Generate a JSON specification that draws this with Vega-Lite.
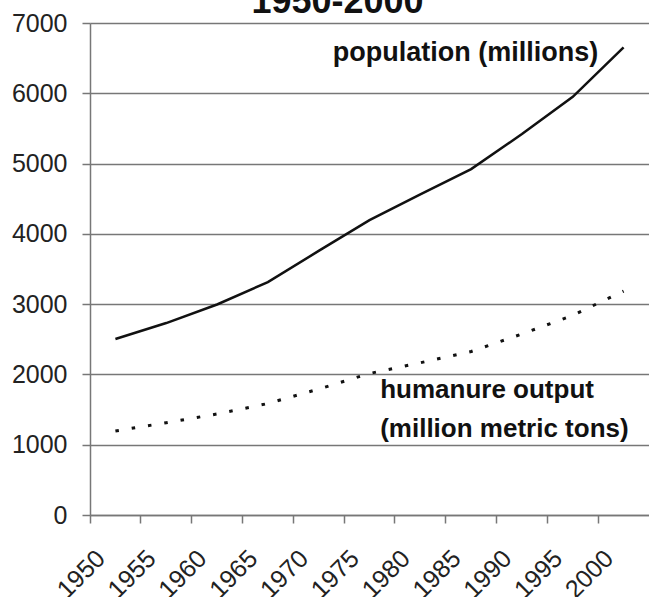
{
  "$schema": "https://vega.github.io/schema/vega-lite/v6.json",
  "width": 559,
  "height": 492,
  "autosize": {"type": "none"},
  "padding": {"left": 90, "top": 23, "right": 0, "bottom": 82},
  "background": "white",
  "datasets": {
    "series": [
      {"year": 1950, "series": "population", "value": 2504},
      {"year": 1955, "series": "population", "value": 2731},
      {"year": 1960, "series": "population", "value": 2995},
      {"year": 1965, "series": "population", "value": 3314},
      {"year": 1970, "series": "population", "value": 3757},
      {"year": 1975, "series": "population", "value": 4196},
      {"year": 1980, "series": "population", "value": 4562},
      {"year": 1985, "series": "population", "value": 4922},
      {"year": 1990, "series": "population", "value": 5420},
      {"year": 1995, "series": "population", "value": 5950},
      {"year": 2000, "series": "population", "value": 6653},
      {"year": 1950, "series": "humanure", "value": 1195},
      {"year": 1955, "series": "humanure", "value": 1313},
      {"year": 1960, "series": "humanure", "value": 1437},
      {"year": 1965, "series": "humanure", "value": 1586},
      {"year": 1970, "series": "humanure", "value": 1792},
      {"year": 1975, "series": "humanure", "value": 2013},
      {"year": 1980, "series": "humanure", "value": 2166},
      {"year": 1985, "series": "humanure", "value": 2326},
      {"year": 1990, "series": "humanure", "value": 2575},
      {"year": 1995, "series": "humanure", "value": 2841},
      {"year": 2000, "series": "humanure", "value": 3186}
    ],
    "notes": [
      {"year": 2000, "value": 6460, "label": "population (millions)", "group": "pop"},
      {"year": 1975, "value": 1665, "label": "humanure output", "group": "hum"},
      {"year": 1975, "value": 1110, "label": "(million metric tons)", "group": "hum"},
      {"year": 1970, "value": 7141, "label": "1950-2000", "group": "title"}
    ]
  },
  "encoding": {
    "x": {
      "field": "year",
      "type": "ordinal",
      "scale": {"type": "band", "paddingInner": 0, "paddingOuter": 0},
      "axis": {
        "title": null,
        "bandPosition": 0,
        "labelAngle": -45,
        "labelAlign": "right",
        "labelBaseline": "middle",
        "labelOffset": -14.5,
        "labelPadding": 31,
        "labelOverlap": false,
        "labelFlush": false,
        "labelFont": "Liberation Sans",
        "labelFontSize": 25,
        "labelColor": "#222",
        "tickSize": 8,
        "tickColor": "#777",
        "tickWidth": 1.5,
        "domainColor": "#777",
        "domainWidth": 1.5,
        "grid": false
      }
    },
    "y": {
      "field": "value",
      "type": "quantitative",
      "scale": {"domain": [0, 7000], "nice": false, "zero": true},
      "axis": {
        "title": null,
        "format": "d",
        "values": [0, 1000, 2000, 3000, 4000, 5000, 6000, 7000],
        "grid": true,
        "gridColor": "#777",
        "gridWidth": 1.5,
        "gridOpacity": 1,
        "tickSize": 8,
        "tickColor": "#777",
        "tickWidth": 1.5,
        "domainColor": "#777",
        "domainWidth": 1.5,
        "labelPadding": 15,
        "labelFont": "Liberation Sans",
        "labelFontSize": 25,
        "labelColor": "#222"
      }
    }
  },
  "layer": [
    {
      "data": {"name": "series"},
      "transform": [{"filter": "datum.series === 'population'"}],
      "mark": {"type": "line", "color": "#111", "strokeWidth": 2.5},
      "encoding": {"x": {"field": "year", "type": "ordinal", "bandPosition": 0.5}}
    },
    {
      "data": {"name": "series"},
      "transform": [{"filter": "datum.series === 'humanure'"}],
      "mark": {"type": "line", "color": "#111", "strokeWidth": 3, "strokeDash": [3.5, 13], "strokeCap": "butt"},
      "encoding": {"x": {"field": "year", "type": "ordinal", "bandPosition": 0.5}}
    },
    {
      "data": {"name": "notes"},
      "transform": [{"filter": "datum.group === 'pop'"}],
      "mark": {"type": "text", "align": "right", "baseline": "alphabetic", "font": "Liberation Sans", "fontSize": 27, "fontWeight": "bold", "color": "#111"},
      "encoding": {
        "x": {"field": "year", "type": "ordinal", "bandPosition": 0},
        "text": {"field": "label"}
      }
    },
    {
      "data": {"name": "notes"},
      "transform": [{"filter": "datum.group === 'hum'"}],
      "mark": {"type": "text", "align": "left", "baseline": "alphabetic", "font": "Liberation Sans", "fontSize": 26, "fontWeight": "bold", "color": "#111"},
      "encoding": {
        "x": {"field": "year", "type": "ordinal", "bandPosition": 0.71},
        "text": {"field": "label"}
      }
    },
    {
      "data": {"name": "notes"},
      "transform": [{"filter": "datum.group === 'title'"}],
      "mark": {"type": "text", "align": "center", "baseline": "alphabetic", "font": "Liberation Sans", "fontSize": 36, "fontWeight": "bold", "color": "#111"},
      "encoding": {
        "x": {"field": "year", "type": "ordinal", "bandPosition": 0.87},
        "text": {"field": "label"}
      }
    }
  ],
  "config": {"view": {"stroke": null}}
}
